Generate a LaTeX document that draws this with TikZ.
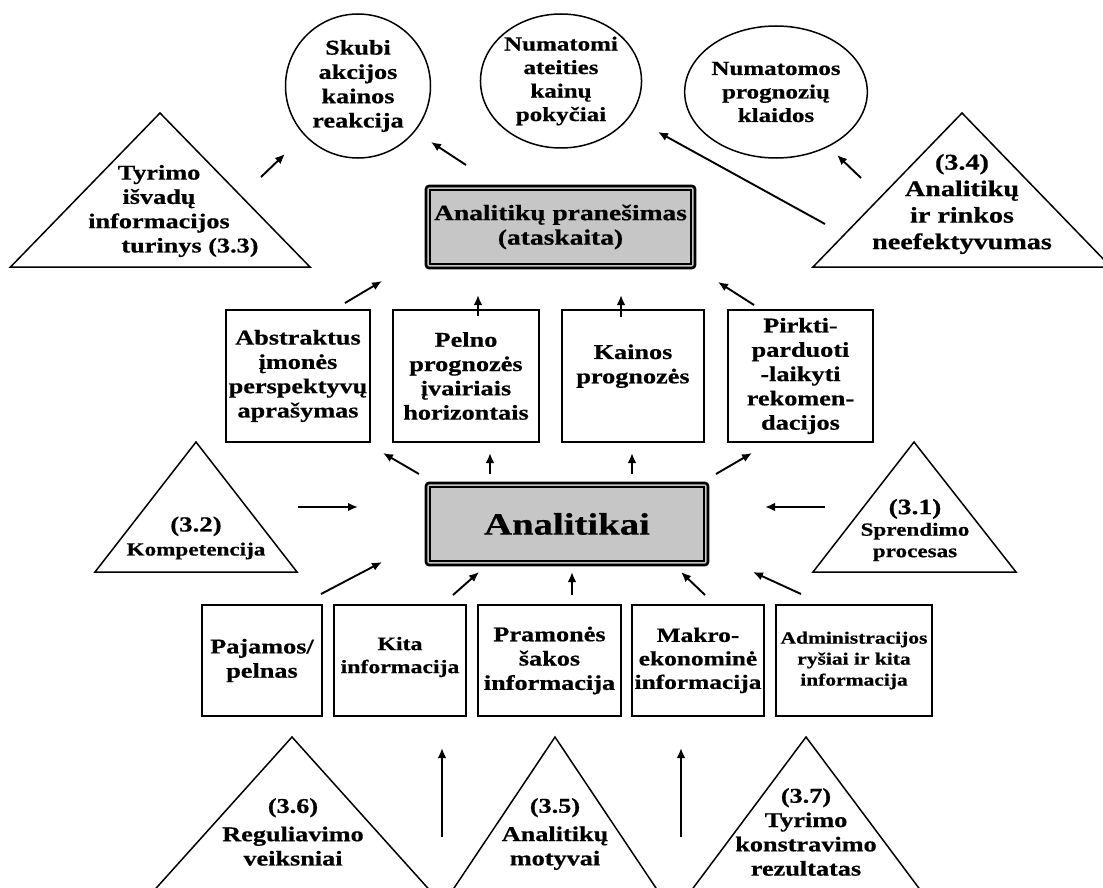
\documentclass[tikz,border=0pt]{standalone}
\usepackage{fontspec}
\setmainfont{Liberation Serif}[FakeStretch=1.25, BoldFeatures={FakeBold=0.6}]
\usetikzlibrary{arrows.meta,shapes.geometric}
\newcommand\figsize[2]{\fontsize{#1}{#2}\selectfont}

\begin{document}
\begin{tikzpicture}[x=1pt,y=-1pt,
  txt/.style={font=\bfseries\figsize{21}{24.3}, align=center, inner sep=0pt, outer sep=0pt},
  box/.style={txt, draw, rectangle, line width=1.6pt},
  circ/.style={txt, draw, ellipse, line width=1.5pt},
  tri/.style={draw, line width=1.5pt, line join=miter},
  arr/.style={-{Latex[length=10pt,width=8.5pt]}, line width=1.9pt},
  frame/.style={draw, rectangle, line width=2.6pt, rounded corners=3pt, fill=gray!45}]

\useasboundingbox (0,0) rectangle (1103,888);
\fill[white] (0,0) rectangle (1103,888);
\clip (0,0) rectangle (1103,888);

% ---------- outcome circles ----------
\node[circ, minimum width=145, minimum height=144] (skubi) at (358,86)
  {Skubi\\akcijos\\kainos\\reakcija};
\node[circ, minimum width=144, minimum height=134, font=\bfseries\figsize{20}{23.5}] (numi) at (561,81)
  {Numatomi\\ateities\\kainų\\pokyčiai};
\node[circ, minimum width=145, minimum height=132, font=\bfseries\figsize{20}{23.5}] (numos) at (776,92)
  {Numatomos\\prognozių\\klaidos};

% ---------- report and analysts ----------
\node[frame, minimum width=269, minimum height=82] (rep) at (560.5,227) {};
\draw[line width=1.9pt] ([shift={(5.5,5.5)}]rep.north west) rectangle ([shift={(-5.5,-5.5)}]rep.south east);
\node[txt, font=\bfseries\figsize{22}{24.5}] (repT) at (rep.center) {Analitikų pranešimas\\(ataskaita)};

\node[frame, minimum width=282, minimum height=82] (ana) at (567,524) {};
\draw[line width=1.9pt] ([shift={(5.5,5.5)}]ana.north west) rectangle ([shift={(-5.5,-5.5)}]ana.south east);
\node[txt, font=\bfseries\figsize{31}{34}] (anaT) at (ana.center) {Analitikai};

% ---------- output boxes ----------
\node[box, minimum width=144, minimum height=132] (abs) at (298,376)
  {Abstraktus\\įmonės\\perspektyvų\\aprašymas};
\node[box, minimum width=146, minimum height=132] (pel) at (466,376)
  {Pelno\\prognozės\\įvairiais\\horizontais};
\node[box, minimum width=142, minimum height=132] (kai) at (633,376)
  {Kainos\\prognozės\\\mbox{}};
\node[box, minimum width=145, minimum height=132] (pirk) at (800.5,376)
  {Pirkti-\\parduoti\\-laikyti\\rekomen-\\dacijos};

% ---------- input boxes ----------
\node[box, minimum width=120, minimum height=111] (paj) at (262,660.5)
  {Pajamos/\\pelnas};
\node[box, minimum width=132, minimum height=111, font=\bfseries\figsize{19}{23}] (kita) at (400,660.5)
  {Kita\\informacija\\[-12pt]\mbox{}};
\node[box, minimum width=143, minimum height=111] (pram) at (549.5,660.5)
  {Pramonės\\šakos\\informacija};
\node[box, minimum width=132, minimum height=111, font=\bfseries\figsize{20.3}{23.5}] (makro) at (698,660.5)
  {Makro-\\ekonominė\\informacija};
\node[box, minimum width=156, minimum height=111, font=\bfseries\figsize{17.2}{21}] (adm) at (854,660.5)
  {Administracijos\\ryšiai ir kita\\informacija};

% ---------- factor triangles ----------
\draw[tri] (160,113) coordinate (t33top) -- (310,267) -- (10.5,267) -- cycle;
\node[txt] (t33) at (159,211) {Tyrimo\\išvadų\\informacijos\\\hspace*{62pt}turinys (3.3)};

\draw[tri] (962,113) coordinate (t34top) -- (1111,267) -- (813,267) -- cycle;
\node[txt, font=\bfseries\figsize{22.5}{26.5}] (t34) at (962,204) {(3.4)\\Analitikų\\ir rinkos\\neefektyvumas};

\draw[tri] (196,442) coordinate (t32top) -- (297,572) -- (95,572) -- cycle;
\node[txt, font=\bfseries\figsize{18.5}{24}] (t32) at (196,538) {{\figsize{21.5}{24}(3.2)}\\Kompetencija};

\draw[tri] (914,442) coordinate (t31top) -- (1016,572) -- (813,572) -- cycle;
\node[txt, font=\bfseries\figsize{18.5}{21.5}] (t31) at (915,530) {{\figsize{22}{24}(3.1)}\\Sprendimo\\procesas};

\draw[tri] (292,737) coordinate (t36top) -- (452,915) -- (132,915) -- cycle;
\node[txt] (t36) at (293,832) {(3.6)\\[4pt]Reguliavimo\\veiksniai};

\draw[tri] (555,737) coordinate (t35top) -- (674,915) -- (436,915) -- cycle;
\node[txt] (t35) at (555,834) {(3.5)\\[4pt]Analitikų\\motyvai};

\draw[tri] (806,737) coordinate (t37top) -- (939,915) -- (673,915) -- cycle;
\node[txt] (t37) at (806,832) {(3.7)\\Tyrimo\\konstravimo\\rezultatas};

% ---------- arrow end points ----------
\coordinate (a1s) at (261,177);  \coordinate (a1e) at (285,154);
\coordinate (a2s) at (466,165);  \coordinate (a2e) at (431,142);
\coordinate (a3s) at (825,224);  \coordinate (a3e) at (658,132);
\coordinate (a4s) at (861,178);  \coordinate (a4e) at (837,155);
\coordinate (a5s) at (345,303);  \coordinate (a5e) at (382,281);
\coordinate (a6s) at (478,316);  \coordinate (a6e) at (478,295);
\coordinate (a7s) at (621,317);  \coordinate (a7e) at (621,295);
\coordinate (a8s) at (754,305);  \coordinate (a8e) at (718,282);
\coordinate (a9s) at (419,474);  \coordinate (a9e) at (383,453);
\coordinate (a10s) at (490,474); \coordinate (a10e) at (490,453);
\coordinate (a11s) at (632,474); \coordinate (a11e) at (632,453);
\coordinate (a12s) at (716,474); \coordinate (a12e) at (752,453);
\coordinate (a13s) at (298,507); \coordinate (a13e) at (358,507);
\coordinate (a14s) at (825,507); \coordinate (a14e) at (765,507);
\coordinate (a15s) at (321,594); \coordinate (a15e) at (382,562);
\coordinate (a16s) at (453,595); \coordinate (a16e) at (479,572);
\coordinate (a17s) at (572,595); \coordinate (a17e) at (572,572);
\coordinate (a18s) at (705,595); \coordinate (a18e) at (681,572);
\coordinate (a19s) at (801,594); \coordinate (a19e) at (753,572);
\coordinate (a20s) at (442,837); \coordinate (a20e) at (442,748);
\coordinate (a21s) at (681,837); \coordinate (a21e) at (681,748);

% ---------- arrows ----------
\foreach \i in {1,...,21}
  \draw[arr] (a\i s) -- (a\i e);

\end{tikzpicture}
\end{document}
